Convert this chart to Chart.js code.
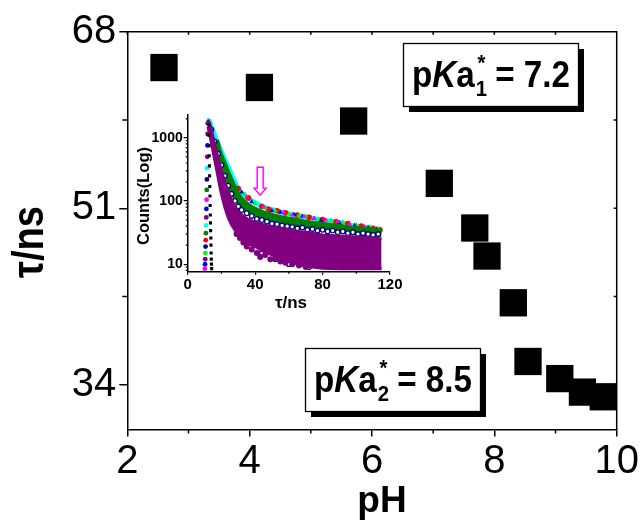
<!DOCTYPE html>
<html><head><meta charset="utf-8">
<script src="https://cdn.jsdelivr.net/npm/chart.js@4/dist/chart.umd.min.js"></script>
<style>
html,body{margin:0;padding:0;background:#fff;}
#wrap{position:relative;width:644px;height:526px;overflow:hidden;background:#fff;}
#main{position:absolute;left:0;top:0;}
#inset{position:absolute;left:100px;top:95px;}
</style></head><body>
<div id="wrap"><canvas id="main" width="644" height="526"></canvas><canvas id="inset" width="310" height="230"></canvas></div>
<script>
const FONT = "'Liberation Sans', Arial, Helvetica, sans-serif";

// ---------- main chart data ----------
const pH  = [2.60, 4.16, 5.70, 7.10, 7.68, 7.88, 8.31, 8.55, 9.07, 9.44, 9.78];
const tau = [64.55, 62.63, 59.4, 53.4, 49.1, 46.4, 41.9, 36.25, 34.6, 33.3, 32.85];
const xTicks = [2, 4, 6, 8, 10];
const xMinor = [3, 5, 7, 9];
const yTicks = [34, 51, 68];
const yMinor = [42.5, 59.5];
const pKa1 = "7.2", pKa2 = "8.5";

// ---------- inset data (time in ns, counts) ----------
const tTop  = [12,13,14,15,16,17,18,19,20,21,22,23,24,25,26,27,28,30,32,34,36,38,40,43,46,49,52,55,58,61,64,67,70,73,76,79,82,85,88,91,94,97,100,103,106,109,112,115];
const cyanV = [1950,1800,1520,1300,1100,930,800,690,600,520,455,400,345,300,260,228,200,152,132,120,110,101,94,85,79,74,71,67,64,62,60,58,56,54,52,50,49,48,46,45,43,41,40,39,38,37,35,34];
const tG    = [16,18,20,22,24,26,28,30,33,36,40,44,48,52,56,60,65,70,75,80,85,90,95,100,105,110,115];
const greenV= [900,560,420,310,230,175,135,110,90,78,68,61,57,53,50,48,46,43,41,40,38,37,35,34,33,32,31];
const tN    = [14,16,18,20,22,24,26,28,30,32,35,38,41,44,47,50,53,56,59,62,65,68,71,74,77,80,83,86,89,92,95,98,101,104,107,110,113];
const navyV = [1350,880,560,370,250,175,130,100,82,72,64,58,52,50,47,44,43,41,40,39,37,38,35,36,34,35,33,34,32,33,31,32,30,31,30,29,30];
const tNlow = [36,44,52,60,72,84,95,104,112];
const navyLowV = [22,15,12,10,9,9.5,9,10,9];
const tP    = [12,13,14,15,16,17,18,19,20,22,24,26,28,30,33,36,40,45,50,55,60,65,70,80,90,100,110,115];
const purpleHi = [1950,1700,1350,1050,800,620,480,380,300,200,140,104,82,68,57,51,46,42,39,37,35,33,32,29,28,27,26,25];
const purpleLo = [1500,1150,850,620,450,330,240,175,130,80,55,42,35,30,25,21,19,16,14,12.5,11,10,9.3,8.6,8.5,8.5,8.5,8.5];
const tPd   = [29,31,33,35,38,41,43,46,49,52,55,58,62,66,70];
const purpleDotV = [30,26,22,19,17,15,13,14,12,12.5,11,10.5,10,9.5,9];
const tRed  = [30,36,44,48,53,58,65,72,80,88,95,103,110,114];
const redV  = [158,112,82,74,70,65,60,55,51,47,44,40,37,35];
const tLg   = [34,40,46,52,60,66,70,78,85,92,100,108,113];
const limeV = [128,92,78,70,62,59,57,51,49,46,42,39,37];
const tBl   = [32,38,50,55,63,68,75,79,90,99,107,112];
const blueV = [138,97,70,66,61,57,53,49,45,41,38,36];
const tMg   = [35,45,57,62,69,75,82,89,96,105,111];
const magV  = [116,80,66,60,57,53,50,47,43,39,36];
const tRise = [10.2,10.3,10.4,10.5,10.6,10.7,10.8,10.9,11.0,11.1,11.2,11.3,11.4,11.5,11.6,11.7,11.8,11.9];
const riseV = [8.5,10,12,15,19,24,31,41,55,75,105,150,220,330,500,760,1150,1700];
const tIrf  = [12.5,12.6,12.7,12.8,12.9,13.0,13.1,13.2,13.3,13.4,13.5,13.6,13.7,13.8,13.9,14.0,14.1,14.2];
const irfV  = [1600,1100,750,520,360,250,170,120,85,60,45,34,26,20,15,12,10,8.5];
const insetXTicks = [0, 40, 80, 120];
const insetXMinor = [20, 60, 100];
const insetYTicks = [10, 100, 1000];
const insetYMinor = [8,9,20,30,40,50,60,70,80,90,200,300,400,500,600,700,800,900,2000];
const arrowT = 43, arrowTop = 343, arrowTip = 124;

const pts = (xs, ys) => xs.map((x, i) => ({x: x, y: ys[i]}));

// ---------- main chart ----------
function drawBox(ctx, x, y, w, h, sub, val) {
  ctx.save();
  ctx.fillStyle = '#000';
  ctx.fillRect(x + 6, y + 6, w, h);
  ctx.fillStyle = '#fff';
  ctx.fillRect(x, y, w, h);
  ctx.strokeStyle = '#000';
  ctx.lineWidth = 1.3;
  ctx.strokeRect(x + 0.5, y + 0.5, w, h);
  const big = 'bold 36px ' + FONT, bigI = 'italic bold 36px ' + FONT, small = 'bold 22px ' + FONT;
  ctx.font = big; const wp = ctx.measureText('p').width, wa = ctx.measureText('a').width;
  const wr = ctx.measureText(' = ' + val).width;
  ctx.font = bigI; const wk = ctx.measureText('K').width;
  ctx.font = small; const ws = Math.max(ctx.measureText(sub).width, ctx.measureText('*').width);
  const total = wp + wk + wa + ws + wr;
  const target = 158;
  ctx.translate(x + 9, y + 44);
  ctx.scale(target / total, 1);
  ctx.fillStyle = '#000';
  ctx.textBaseline = 'alphabetic';
  ctx.textAlign = 'left';
  let cx = 0;
  ctx.font = big; ctx.fillText('p', cx, 0); cx += wp;
  ctx.font = bigI; ctx.fillText('K', cx, 0); cx += wk;
  ctx.font = big; ctx.fillText('a', cx, 0); cx += wa;
  ctx.font = small; ctx.fillText(sub, cx + 1, 9); ctx.fillText('*', cx + 3, -17); cx += ws;
  ctx.font = big; ctx.fillText(' = ' + val, cx, 0);
  ctx.restore();
}

const mainDecor = {
  id: 'mainDecor',
  afterDraw(chart) {
    const ctx = chart.ctx, a = chart.chartArea, xs = chart.scales.x, ys = chart.scales.y;
    ctx.save();
    ctx.strokeStyle = '#000';
    ctx.lineWidth = 1.5;
    ctx.beginPath();
    ctx.moveTo(a.left, a.top); ctx.lineTo(a.right, a.top); ctx.lineTo(a.right, a.bottom);
    // bottom minor ticks (outward)
    xMinor.forEach(v => { const p = xs.getPixelForValue(v); ctx.moveTo(p, a.bottom); ctx.lineTo(p, a.bottom + 4); });
    // left minor ticks (outward)
    yMinor.forEach(v => { const p = ys.getPixelForValue(v); ctx.moveTo(a.left, p); ctx.lineTo(a.left - 5, p); });
    // top ticks (inward)
    xTicks.concat(xMinor).forEach(v => { const p = xs.getPixelForValue(v); ctx.moveTo(p, a.top); ctx.lineTo(p, a.top + 3); });
    // right ticks (inward)
    yTicks.concat(yMinor).forEach(v => { const p = ys.getPixelForValue(v); ctx.moveTo(a.right, p); ctx.lineTo(a.right - 3, p); });
    ctx.stroke();
    ctx.restore();

    drawBox(ctx, 403, 43, 175, 63, '1', pKa1);
    drawBox(ctx, 305, 348, 175, 63, '2', pKa2);

    // axis titles
    ctx.save();
    ctx.fillStyle = '#000';
    ctx.font = 'bold 37px ' + FONT;
    ctx.textAlign = 'center';
    ctx.textBaseline = 'alphabetic';
    ctx.fillText('pH', 382, 512);
    ctx.restore();

    ctx.save();
    ctx.fillStyle = '#000';
    ctx.font = 'bold 44px ' + FONT;
    ctx.textAlign = 'center';
    ctx.textBaseline = 'alphabetic';
    const tw = ctx.measureText('\u03c4/ns').width;
    ctx.translate(43, 242);
    ctx.rotate(-Math.PI / 2);
    ctx.scale(72 / tw, 1);
    ctx.fillText('\u03c4/ns', 0, 0);
    ctx.restore();
  }
};

new Chart(document.getElementById('main'), {
  type: 'scatter',
  data: {
    datasets: [{
      data: pts(pH, tau),
      pointStyle: 'rect',
      pointRadius: 19.3,
      pointHoverRadius: 19.3,
      backgroundColor: '#000',
      borderColor: '#000',
      borderWidth: 0,
      clip: false
    }]
  },
  options: {
    responsive: false,
    animation: false,
    devicePixelRatio: 1,
    events: [],
    layout: { padding: { left: 0, top: 31.7, right: 27.3, bottom: 0 } },
    plugins: { legend: { display: false }, tooltip: { enabled: false } },
    scales: {
      x: {
        type: 'linear', min: 2, max: 10,
        afterBuildTicks: s => { s.ticks = xTicks.map(v => ({ value: v })); },
        afterFit: s => { s.height = 96.5; },
        ticks: { font: { family: FONT, size: 40 }, color: '#000', padding: 1, maxRotation: 0, autoSkip: false, callback: v => String(v) },
        grid: { drawOnChartArea: false, drawTicks: true, tickLength: 7, color: '#000', lineWidth: 1.5 },
        border: { display: true, color: '#000', width: 1.5 }
      },
      y: {
        type: 'linear', min: 29.7, max: 68,
        afterBuildTicks: s => { s.ticks = yTicks.map(v => ({ value: v })); },
        afterFit: s => { s.width = 127.3; },
        ticks: { font: { family: FONT, size: 40 }, color: '#000', padding: 3, autoSkip: false, callback: v => String(v) },
        grid: { drawOnChartArea: false, drawTicks: true, tickLength: 8, color: '#000', lineWidth: 1.5 },
        border: { display: true, color: '#000', width: 1.5 }
      }
    }
  },
  plugins: [mainDecor]
});

// ---------- inset chart ----------
const insetDecor = {
  id: 'insetDecor',
  afterDraw(chart) {
    const ctx = chart.ctx, a = chart.chartArea, xs = chart.scales.x, ys = chart.scales.y;
    ctx.save();
    ctx.strokeStyle = '#000';
    ctx.lineWidth = 1.2;
    ctx.beginPath();
    insetXMinor.forEach(v => { const p = xs.getPixelForValue(v); ctx.moveTo(p, a.bottom); ctx.lineTo(p, a.bottom + 2); });
    insetYMinor.forEach(v => { const p = ys.getPixelForValue(v); if (p >= a.top && p <= a.bottom) { ctx.moveTo(a.left, p); ctx.lineTo(a.left - 2, p); } });
    ctx.stroke();
    // arrow
    const ax = xs.getPixelForValue(arrowT), y0 = ys.getPixelForValue(arrowTop), y1 = ys.getPixelForValue(arrowTip);
    ctx.strokeStyle = '#ff00ff';
    ctx.lineWidth = 1.4;
    ctx.beginPath();
    ctx.moveTo(ax - 3, y0); ctx.lineTo(ax + 3, y0); ctx.lineTo(ax + 3, y1 - 7);
    ctx.lineTo(ax + 6, y1 - 7); ctx.lineTo(ax, y1); ctx.lineTo(ax - 6, y1 - 7);
    ctx.lineTo(ax - 3, y1 - 7); ctx.closePath();
    ctx.stroke();
    ctx.restore();
    // titles
    ctx.save();
    ctx.fillStyle = '#000';
    ctx.font = 'bold 17px ' + FONT;
    ctx.textAlign = 'center';
    ctx.textBaseline = 'alphabetic';
    ctx.fillText('\u03c4/ns', 191, 213);
    ctx.restore();
    ctx.save();
    ctx.fillStyle = '#000';
    ctx.font = 'bold 17px ' + FONT;
    ctx.textAlign = 'center';
    ctx.textBaseline = 'alphabetic';
    const tw = ctx.measureText('Counts(Log)').width;
    ctx.translate(49, 101);
    ctx.rotate(-Math.PI / 2);
    ctx.scale(98 / tw, 1);
    ctx.fillText('Counts(Log)', 0, 0);
    ctx.restore();
  }
};

const riseColors = ['#ff00ff','#0000ff','#800080','#00ff00','#000080','#ff0000','#008000','#00ffff','#800080','#0000ff','#ff00ff','#008000','#000080','#00ffff','#800080','#0000ff','#800080','#800080'];

function dotSet(xs, ys, color, style, r, order, extra) {
  return Object.assign({
    data: pts(xs, ys), showLine: false, pointStyle: style, pointRadius: r, pointHoverRadius: r,
    pointBackgroundColor: color, pointBorderColor: color, pointBorderWidth: 0, order: order
  }, extra || {});
}

new Chart(document.getElementById('inset'), {
  type: 'line',
  data: {
    datasets: [
      dotSet(tIrf, irfV, '#000', 'rect', 2.2, 0),
      dotSet(tRise, riseV, riseColors, 'circle', 2.4, 1),
      dotSet(tPd, purpleDotV, '#800080', 'circle', 3, 2),
      { data: pts(tP, purpleHi), showLine: true, borderColor: '#800080', borderWidth: 3, pointRadius: 0,
        backgroundColor: '#800080', fill: '+1', order: 3, tension: 0 },
      { data: pts(tP, purpleLo), showLine: true, borderColor: '#800080', borderWidth: 3, pointRadius: 0,
        fill: false, order: 3.5, tension: 0 },
      dotSet(tNlow, navyLowV, '#fff', 'circle', 2.3, 4, { pointBorderColor: '#000080', pointBorderWidth: 1.3 }),
      dotSet(tN, navyV, '#fff', 'circle', 2.3, 5, { pointBorderColor: '#000080', pointBorderWidth: 1.3 }),
      { data: pts(tG, greenV), showLine: true, borderColor: '#008000', borderWidth: 9, pointRadius: 0, fill: false, order: 6, tension: 0.2 },
      dotSet(tMg, magV, '#ff00ff', 'triangle', 2.8, 7),
      dotSet(tBl, blueV, '#0000ff', 'triangle', 2.8, 8),
      dotSet(tLg, limeV, '#00ff00', 'triangle', 2.8, 9),
      dotSet(tRed, redV, '#ff0000', 'circle', 2.8, 10),
      { data: pts(tTop, cyanV), showLine: true, borderColor: '#00ffff', borderWidth: 5, pointRadius: 2.4,
        pointStyle: 'triangle', pointBackgroundColor: '#00ffff', pointBorderWidth: 0, fill: false, order: 11, tension: 0.2 }
    ]
  },
  options: {
    responsive: false,
    animation: false,
    devicePixelRatio: 1,
    events: [],
    layout: { padding: { left: 0, top: 20, right: 20, bottom: 0 } },
    plugins: { legend: { display: false }, tooltip: { enabled: false } },
    scales: {
      x: {
        type: 'linear', min: 0, max: 120,
        afterBuildTicks: s => { s.ticks = insetXTicks.map(v => ({ value: v })); },
        afterFit: s => { s.height = 53.3; },
        ticks: { font: { family: FONT, size: 15, weight: 'bold' }, color: '#000', padding: 1, maxRotation: 0, autoSkip: false, callback: v => String(v) },
        grid: { drawOnChartArea: false, drawTicks: true, tickLength: 3, color: '#000', lineWidth: 1.2 },
        border: { display: true, color: '#000', width: 1.5 }
      },
      y: {
        type: 'logarithmic', min: 7.6, max: 2300,
        afterBuildTicks: s => { s.ticks = insetYTicks.map(v => ({ value: v, major: true })); },
        afterFit: s => { s.width = 87.7; },
        ticks: { font: { family: FONT, size: 14, weight: 'bold' }, color: '#000', padding: 1, autoSkip: false, callback: v => String(v) },
        grid: { drawOnChartArea: false, drawTicks: true, tickLength: 4, color: '#000', lineWidth: 1.2 },
        border: { display: true, color: '#000', width: 1.5 }
      }
    }
  },
  plugins: [insetDecor]
});
</script>
</body></html>
